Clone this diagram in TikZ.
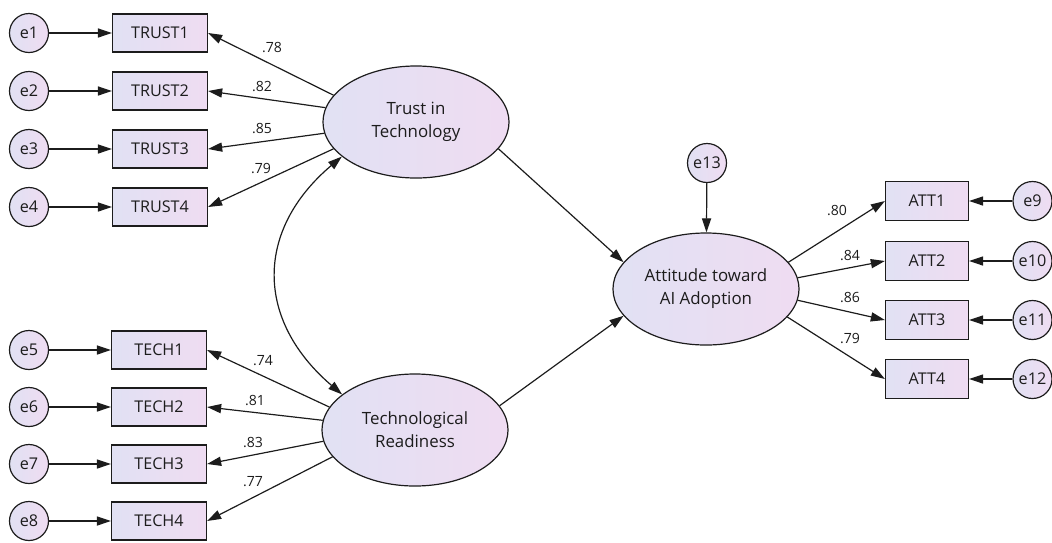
\documentclass[tikz,border=0pt]{standalone}
\usepackage{fontspec}
\setmainfont{Open Sans}
\usetikzlibrary{arrows.meta,shapes.geometric}
\definecolor{lavL}{HTML}{E1E1F3}
\definecolor{lavR}{HTML}{EFDCF2}
\definecolor{ink}{HTML}{1C1C1C}
\begin{document}
\begin{tikzpicture}[x=0.025cm,y=-0.025cm,
  latent/.style={ellipse, draw=ink, line width=0.85pt, left color=lavL, right color=lavR,
    minimum width=4.65cm, minimum height=2.8cm, inner sep=0pt, align=center,
    text=ink, font=\fontsize{12}{16.3}\selectfont},
  obs/.style={rectangle, draw=ink, line width=0.85pt, left color=lavL, right color=lavR,
    minimum width=2.375cm, minimum height=0.95cm, inner sep=0pt, text=ink,
    font=\fontsize{11.5}{13}\selectfont},
  obsatt/.style={obs, minimum width=2.075cm, minimum height=0.975cm},
  err/.style={circle, draw=ink, line width=0.85pt, left color=lavL, right color=lavR,
    minimum size=0.975cm, inner sep=0pt, text=ink, font=\fontsize{11.5}{13}\selectfont},
  arr/.style={-{Triangle[length=10pt,width=6.5pt]}, line width=0.85pt, draw=ink},
  darr/.style={{Triangle[length=10pt,width=6.5pt]}-{Triangle[length=10pt,width=6.5pt]}, line width=0.85pt, draw=ink},
  coef/.style={inner sep=0pt, text=ink, font=\fontsize{10}{12}\selectfont}]
\useasboundingbox (0,0) rectangle (1052,542);

% latent variables
\node[latent] (trust) at (416,122) {Trust in\\Technology};
\node[latent] (tech) at (415,430) {Technological\\Readiness};
\node[latent] (att) at (706,289) {Attitude toward\\AI Adoption};
\node[err] (e13) at (707,163) {e13};

% trust indicators
\foreach \i/\y in {1/33,2/91,3/149,4/207}{
  \node[obs] (tr\i) at (160,\y) {TRUST\i};
  \node[err] (e\i) at (29,\y) {e\i};
  \draw[arr] (e\i) -- (tr\i);
}
% tech indicators
\foreach \i/\y/\e in {1/350/5,2/407/6,3/464/7,4/521/8}{
  \node[obs] (tc\i) at (159,\y) {TECH\i};
  \node[err] (e\e) at (29,\y) {e\e};
  \draw[arr] (e\e) -- (tc\i);
}
% att indicators
\foreach \i/\y/\e in {1/201/9,2/261/10,3/320/11,4/379/12}{
  \node[obsatt] (at\i) at (927,\y) {ATT\i};
  \node[err] (e\e) at (1032.5,\y) {e\e};
  \draw[arr] (e\e) -- (at\i);
}

% loadings
\draw[arr] (trust.162) -- (tr1.east);
\draw[arr] (trust.171) -- (tr2.east);
\draw[arr] (trust.187) -- (tr3.east);
\draw[arr] (trust.198) -- (tr4.east);
\draw[arr] (tech.165) -- (tc1.east);
\draw[arr] (tech.174) -- (tc2.east);
\draw[arr] (tech.187) -- (tc3.east);
\draw[arr] (tech.198) -- (tc4.east);
\draw[arr] (att.18) -- (at1.west);
\draw[arr] (att.7) -- (at2.west);
\draw[arr] (att.-7) -- (at3.west);
\draw[arr] (att.-19) -- (at4.west);

% structural paths
\draw[arr] (trust.-18) -- (att.162);
\draw[arr] (tech.16) -- (att.198);
\draw[arr] (e13) -- (att);
\draw[darr] (trust.205) .. controls (255,230) and (255,320) .. (tech.154);

% coefficients
\node[coef] (c1) at (272,48) {.78};
\node[coef] (c2) at (262,87) {.82};
\node[coef] (c3) at (262,129) {.85};
\node[coef] (c4) at (261,168) {.79};
\node[coef] (c5) at (263,361) {.74};
\node[coef] (c6) at (255,400) {.81};
\node[coef] (c7) at (253,442) {.83};
\node[coef] (c8) at (253,482) {.77};
\node[coef] (c9) at (837,210) {.80};
\node[coef] (c10) at (850,255) {.84};
\node[coef] (c11) at (850,297) {.86};
\node[coef] (c12) at (850,338) {.79};
\end{tikzpicture}
\end{document}
